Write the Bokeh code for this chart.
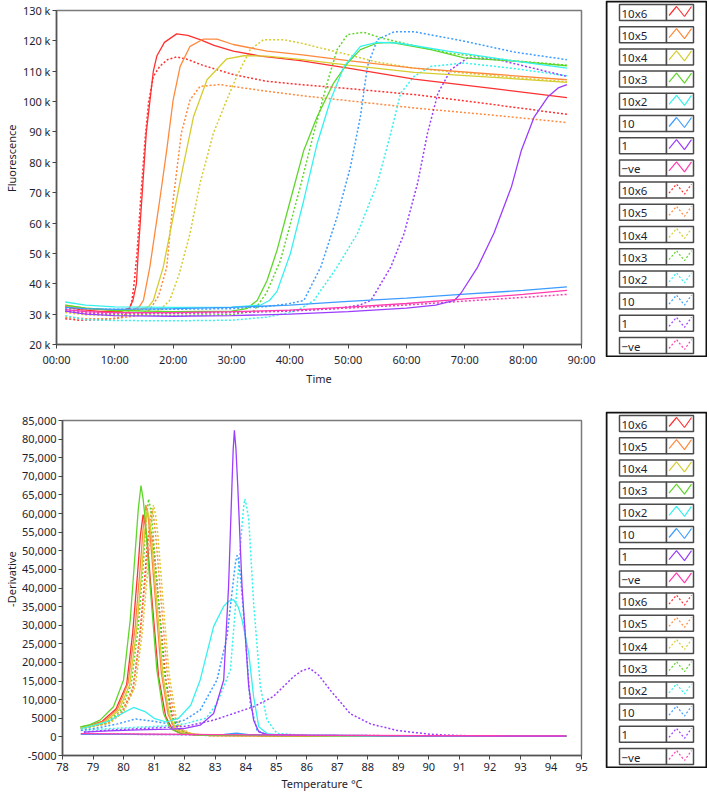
import math
from bokeh.plotting import figure
from bokeh.layouts import row, column
from bokeh.models import Range1d, FixedTicker, Spacer
from bokeh.embed import file_html
from bokeh.resources import INLINE

# ---------------- series identity ----------------
LABELS = ["10x6", "10x5", "10x4", "10x3", "10x2", "10", "1", "\u2212ve"]
COLORS = ["#ff3030", "#ff8a3d", "#d6cc2e", "#5fd62a", "#35f2ee", "#3d9cff", "#9b3dff", "#ff3db0"]

# ---------------- amplification (time in minutes, fluorescence in k) ----------------
AMP_T_S1 = [1.5, 4, 8, 11, 12.5, 13.1, 13.7, 14.0, 14.7, 15.4, 16.0, 16.6, 17.2, 18.5, 20.6, 22.5, 24.6, 27, 30.3, 35, 41.8, 50, 61.3, 75, 87.5]
AMP_F_S1 = [32.5, 31.5, 30.8, 30.8, 32, 34.5, 40, 50, 70, 90, 100, 110, 115, 119.5, 122.3, 121.8, 120.4, 118.5, 116.6, 115, 113.5, 111, 107.4, 104.3, 101.3]
AMP_T_S2 = [1.5, 5, 10, 13, 14.2, 14.9, 16.0, 17.7, 18.9, 20.0, 21.2, 22.9, 25.2, 27.5, 30.3, 36.1, 41.8, 50, 61.3, 75, 87.5]
AMP_F_S2 = [32.8, 31.8, 31.2, 31.2, 32.5, 34.5, 45.5, 67.6, 84.1, 100.6, 111.6, 118.2, 120.6, 120.6, 118.8, 116.6, 115.5, 113.5, 111, 109, 107.2]
AMP_T_S3 = [1.5, 5, 10, 14, 15.8, 16.6, 18.3, 20, 21.7, 23.5, 25.8, 29.2, 32.1, 36, 41.8, 50, 61.3, 75, 87.5]
AMP_F_S3 = [33, 32, 31.3, 31.3, 32.5, 34.5, 45.5, 62, 78.6, 95.1, 107.2, 114.1, 115.1, 115, 113.9, 112, 109.6, 108, 106.3]
AMP_T_S4 = [1.5, 5, 10, 20, 30, 32.6, 34.4, 36.1, 37.8, 40.1, 42.4, 44.7, 47.5, 49.9, 52.1, 55, 57.3, 64.2, 69.9, 78.5, 87.5]
AMP_F_S4 = [33, 32, 31.2, 30.8, 31, 31.8, 34.5, 41.1, 51, 67.6, 84, 95.1, 106.1, 112.7, 117.1, 119.3, 119.5, 117.1, 114.4, 113.3, 111.8]
AMP_T_S5 = [1.5, 5, 10, 20, 30, 35, 36.5, 37.8, 40.1, 42.4, 44.7, 47, 49.3, 52.1, 55, 58.5, 67.1, 78, 87.5]
AMP_F_S5 = [34, 33, 32.4, 32.2, 32.3, 33, 34.5, 37.5, 50, 67.6, 86.3, 100.6, 111.6, 118.2, 119.5, 119.3, 116.6, 113.5, 111]
AMP_T_S6 = [1.5, 5, 10, 20, 30, 40, 50, 60, 70, 80, 87.5]
AMP_F_S6 = [32.2, 31.8, 31.6, 31.8, 32.2, 33, 34.2, 35.3, 36.6, 37.8, 39]
AMP_T_S7 = [1.5, 5, 10, 20, 30, 40, 50, 60, 65, 68.2, 69.3, 72.2, 75, 78, 79.7, 81.9, 84.3, 86, 87.5]
AMP_F_S7 = [31, 30, 29.5, 29.3, 29.5, 30, 30.8, 32, 33, 34.5, 36.8, 45.5, 56.7, 72, 84, 95, 101.7, 104.5, 105.6]
AMP_T_S8 = [1.5, 5, 10, 20, 30, 40, 50, 60, 70, 80, 87.5]
AMP_F_S8 = [31.5, 30.8, 30.5, 30.5, 30.8, 31.3, 32.3, 33.5, 35, 36.5, 37.8]

AMP_T_D1 = [1.5, 4, 8, 11, 12.3, 12.9, 13.3, 13.8, 14.5, 15.2, 15.8, 16.6, 17.7, 19, 20.6, 22.3, 25, 30.3, 36, 41.8, 50, 61.3, 75, 87.5]
AMP_F_D1 = [28.5, 28, 28.2, 28.8, 30.5, 34, 40, 50, 70, 88, 100, 108.3, 111.6, 113.8, 114.7, 114.0, 112, 108.9, 106.7, 105.6, 104.3, 102.3, 99, 95.8]
AMP_T_D2 = [1.5, 5, 10, 14, 16, 17.5, 18.9, 20, 21.4, 22.9, 24.6, 28, 32, 36.1, 41.8, 50, 61.3, 75, 87.5]
AMP_F_D2 = [29, 28.5, 28.5, 29.5, 31.5, 36, 45.5, 67.6, 89.6, 100.6, 105, 105.6, 104.5, 103.4, 102, 100.3, 97.9, 95.5, 93.1]
AMP_T_D3 = [1.5, 5, 10, 15, 17.5, 19.4, 21, 22.9, 24.6, 26.9, 29.2, 30.9, 33.2, 35.5, 38.9, 41.8, 44.1, 49.9, 55, 61.3, 75, 87.5]
AMP_F_D3 = [30.5, 29.8, 29.5, 29.8, 31, 34.5, 43, 56.6, 73.1, 89.6, 100.6, 108.3, 117.1, 120.4, 120.4, 119.3, 118.2, 115.5, 113, 111, 108.5, 106.5]
AMP_T_D4 = [1.5, 5, 10, 20, 30, 33.8, 36, 38.4, 41.8, 44.1, 46.4, 48.1, 49.9, 52.7, 55.6, 60, 67.1, 78, 87.5]
AMP_F_D4 = [31, 30.2, 29.8, 29.6, 29.8, 31, 37, 47.7, 72, 89.6, 106.1, 117.1, 122.1, 122.8, 121, 119, 116, 113.5, 112]
AMP_T_D5 = [1.5, 5, 10, 20, 30, 36, 40, 42, 44.1, 48.1, 51.6, 55, 57.3, 59, 61.3, 64.2, 69.9, 78, 87.5]
AMP_F_D5 = [29.5, 28.2, 27.9, 27.8, 28, 29, 30.5, 32, 34.5, 45.5, 56.6, 73.1, 89.6, 102.8, 108.3, 111.6, 112.7, 111, 108.5]
AMP_T_D6 = [1.5, 5, 10, 20, 30, 36, 40, 42.4, 45.3, 48.1, 50.4, 52.1, 53.3, 55, 57.9, 61.3, 69.9, 78.5, 87.5]
AMP_F_D6 = [32, 31.7, 31.6, 31.6, 31.8, 32.5, 33.5, 34.5, 45.5, 62, 78.6, 95.1, 111.6, 120.4, 123, 123, 119.9, 116.3, 113.8]
AMP_T_D7 = [1.5, 5, 10, 20, 30, 40, 48, 52, 53.9, 57.3, 59.6, 61.9, 63.6, 65.4, 67.6, 70.5, 75.7, 87.5]
AMP_F_D7 = [31.5, 30.8, 30.5, 30.3, 30.5, 31, 31.8, 33, 34.5, 45.5, 56.6, 73.1, 89.6, 102.8, 110.5, 114.4, 113.8, 108.3]
AMP_T_D8 = [1.5, 5, 10, 20, 30, 40, 50, 60, 70, 80, 87.5]
AMP_F_D8 = [31, 30.3, 30.2, 30.3, 30.6, 31.2, 32, 33, 34.3, 35.5, 36.5]

# ---------------- melt derivative (temperature °C, -dF/dT) ----------------
MELT_T_S1 = [78.6, 78.9, 79.3, 79.75, 80.1, 80.3, 80.46, 80.55, 80.64, 80.71, 80.78, 80.94, 81.15, 81.38, 81.6, 81.9, 82.5, 84, 86, 88, 90, 92, 94.5]
MELT_D_S1 = [2600, 3100, 4200, 7500, 14000, 28000, 44000, 54000, 59700, 57000, 52000, 36000, 16000, 5500, 2000, 800, 400, 350, 300, 300, 250, 200, 150]
MELT_T_S2 = [78.6, 78.9, 79.35, 79.8, 80.15, 80.38, 80.55, 80.64, 80.73, 80.8, 80.87, 81.03, 81.24, 81.46, 81.68, 82.0, 82.6, 84, 86, 88, 90, 92, 94.5]
MELT_D_S2 = [2500, 3000, 4100, 7400, 14500, 29500, 46000, 56000, 62300, 59500, 54000, 38000, 17000, 6000, 2100, 850, 400, 350, 300, 250, 250, 200, 200]
MELT_T_S3 = [78.6, 78.9, 79.4, 79.85, 80.2, 80.43, 80.6, 80.69, 80.78, 80.85, 80.92, 81.08, 81.29, 81.5, 81.72, 82.05, 82.6, 84, 86, 88, 90, 92, 94.5]
MELT_D_S3 = [2400, 2900, 4000, 7200, 14000, 29000, 45000, 55000, 61000, 58300, 53000, 37000, 16500, 5800, 2000, 800, 400, 350, 300, 250, 250, 200, 200]
MELT_T_S4 = [78.58, 78.9, 79.23, 79.67, 80.0, 80.22, 80.38, 80.48, 80.57, 80.64, 80.71, 80.87, 81.09, 81.31, 81.53, 81.86, 82.5, 84, 86, 88, 90, 92, 94.5]
MELT_D_S4 = [2700, 3300, 4500, 8100, 15300, 31500, 49500, 61000, 67500, 64000, 58500, 40500, 18000, 6300, 2250, 900, 450, 400, 350, 300, 250, 250, 200]
MELT_T_S5 = [78.6, 79.0, 79.5, 80.0, 80.33, 80.7, 81.0, 81.4, 81.8, 82.2, 82.51, 82.95, 83.28, 83.45, 83.6, 83.75, 83.88, 84.1, 84.26, 84.43, 84.7, 85.2, 86, 88, 90, 92, 94.5]
MELT_D_S5 = [2200, 3000, 4200, 6500, 7900, 6800, 5000, 4000, 5000, 8500, 15300, 29700, 35100, 36500, 36900, 35000, 31500, 22500, 10800, 2700, 900, 500, 400, 300, 250, 200, 200]
MELT_T_S6 = [78.6, 80, 82, 83.3, 83.7, 84.1, 86, 88, 90, 92, 94.5]
MELT_D_S6 = [700, 650, 600, 650, 1000, 600, 500, 400, 350, 300, 250]
MELT_T_S7 = [78.7, 79.5, 80.5, 81.5, 81.97, 82.51, 82.95, 83.28, 83.44, 83.55, 83.59, 83.63, 83.68, 83.74, 83.88, 84.1, 84.26, 84.43, 84.7, 85.5, 87, 89, 91, 94.5]
MELT_D_S7 = [1300, 1600, 1900, 2100, 2250, 3150, 6300, 15300, 40500, 67500, 77000, 82350, 77500, 67500, 40500, 13500, 4500, 1350, 700, 500, 400, 300, 250, 200]
MELT_T_S8 = [78.6, 80, 82, 84, 86, 88, 90, 92, 94.5]
MELT_D_S8 = [900, 800, 650, 550, 450, 400, 350, 300, 250]

MELT_T_D1 = [78.6, 78.9, 79.5, 79.95, 80.3, 80.52, 80.68, 80.77, 80.86, 80.93, 81.0, 81.17, 81.38, 81.6, 81.82, 82.15, 82.75, 84, 86, 88, 90, 92, 94.5]
MELT_D_D1 = [2300, 2700, 3700, 6500, 12500, 26000, 41000, 51000, 56500, 54000, 49500, 34500, 15500, 5300, 1900, 800, 400, 350, 300, 250, 200, 200, 150]
MELT_T_D2 = [78.6, 78.9, 79.5, 79.95, 80.32, 80.56, 80.74, 80.83, 80.92, 80.99, 81.06, 81.22, 81.43, 81.65, 81.87, 82.2, 82.8, 84, 86, 88, 90, 92, 94.5]
MELT_D_D2 = [2200, 2700, 3800, 6800, 13500, 28500, 45000, 55500, 61500, 58800, 53500, 37500, 17000, 5800, 2000, 800, 400, 350, 300, 250, 200, 200, 150]
MELT_T_D3 = [78.6, 78.9, 79.55, 80.0, 80.38, 80.62, 80.8, 80.89, 80.98, 81.05, 81.12, 81.28, 81.49, 81.71, 81.93, 82.25, 82.85, 84, 86, 88, 90, 92, 94.5]
MELT_D_D3 = [2200, 2600, 3700, 6700, 13500, 28500, 45500, 56200, 62300, 59500, 54500, 38000, 17000, 5800, 2000, 800, 400, 350, 300, 250, 200, 200, 150]
MELT_T_D4 = [78.6, 78.9, 79.45, 79.9, 80.25, 80.48, 80.65, 80.73, 80.82, 80.89, 80.96, 81.12, 81.33, 81.55, 81.77, 82.1, 82.7, 84, 86, 88, 90, 92, 94.5]
MELT_D_D4 = [2300, 2800, 3900, 7000, 14000, 29500, 46500, 57500, 63900, 61000, 55500, 39000, 17500, 6000, 2100, 800, 400, 350, 300, 250, 200, 200, 150]
MELT_T_D5 = [78.6, 79.5, 80.5, 81.5, 82.0, 82.7, 83.06, 83.5, 83.72, 83.88, 83.93, 83.97, 84.03, 84.1, 84.26, 84.48, 84.7, 85.03, 86, 88, 90, 92, 94.5]
MELT_D_D5 = [1800, 2200, 2600, 3000, 3500, 5000, 9000, 18000, 40500, 56700, 61500, 63900, 62000, 58500, 36000, 13500, 4500, 900, 400, 300, 250, 200, 200]
MELT_T_D6 = [78.6, 79.2, 79.8, 80.4, 80.9, 81.5, 82.0, 82.51, 83.06, 83.39, 83.6, 83.67, 83.72, 83.77, 83.83, 83.99, 84.15, 84.37, 84.7, 85.5, 87, 89, 91, 94.5]
MELT_D_D6 = [1700, 2500, 3500, 4800, 4300, 3500, 4500, 7200, 15300, 27000, 42300, 47000, 48800, 47500, 43200, 27000, 9000, 1800, 450, 350, 300, 250, 200, 150]
MELT_T_D7 = [78.7, 79.5, 80.5, 81.5, 82.08, 82.95, 84.26, 84.9, 85.57, 85.85, 86.1, 86.4, 86.78, 87.43, 88.09, 88.96, 90.05, 91, 92.5, 94.5]
MELT_D_D7 = [1300, 1800, 2200, 2600, 2900, 4500, 8100, 10800, 16200, 17800, 18450, 16500, 12460, 6200, 3490, 1720, 700, 350, 250, 200]
MELT_T_D8 = [78.6, 80, 82, 84, 86, 88, 90, 92, 94.5]
MELT_D_D8 = [800, 700, 600, 500, 400, 350, 300, 250, 200]

AMP_SOLID = [(AMP_T_S1, AMP_F_S1), (AMP_T_S2, AMP_F_S2), (AMP_T_S3, AMP_F_S3), (AMP_T_S4, AMP_F_S4),
             (AMP_T_S5, AMP_F_S5), (AMP_T_S6, AMP_F_S6), (AMP_T_S7, AMP_F_S7), (AMP_T_S8, AMP_F_S8)]
AMP_DOT = [(AMP_T_D1, AMP_F_D1), (AMP_T_D2, AMP_F_D2), (AMP_T_D3, AMP_F_D3), (AMP_T_D4, AMP_F_D4),
           (AMP_T_D5, AMP_F_D5), (AMP_T_D6, AMP_F_D6), (AMP_T_D7, AMP_F_D7), (AMP_T_D8, AMP_F_D8)]
MELT_SOLID = [(MELT_T_S1, MELT_D_S1), (MELT_T_S2, MELT_D_S2), (MELT_T_S3, MELT_D_S3), (MELT_T_S4, MELT_D_S4),
              (MELT_T_S5, MELT_D_S5), (MELT_T_S6, MELT_D_S6), (MELT_T_S7, MELT_D_S7), (MELT_T_S8, MELT_D_S8)]
MELT_DOT = [(MELT_T_D1, MELT_D_D1), (MELT_T_D2, MELT_D_D2), (MELT_T_D3, MELT_D_D3), (MELT_T_D4, MELT_D_D4),
            (MELT_T_D5, MELT_D_D5), (MELT_T_D6, MELT_D_D6), (MELT_T_D7, MELT_D_D7), (MELT_T_D8, MELT_D_D8)]

TIME_TICKS = [0, 10, 20, 30, 40, 50, 60, 70, 80, 90]
FLUOR_TICKS = [20, 30, 40, 50, 60, 70, 80, 90, 100, 110, 120, 130]
TEMP_TICKS = list(range(78, 96))
DERIV_TICKS = list(range(-5000, 85001, 5000))

FONT = "Noto Sans"
TXT = "#1e1e30"
DOT_DASH = "2 2"
YLAB_W = 19


def style_axes(p, x_std, x_lab_std):
    p.xgrid.visible = False
    p.ygrid.visible = False
    p.outline_line_color = "#7a7a7a"
    p.outline_line_width = 1.5
    for ax in (p.xaxis[0], p.yaxis[0]):
        ax.axis_line_color = "#555555"
        ax.axis_line_width = 1.5
        ax.major_tick_line_color = "#444444"
        ax.major_tick_in = 0
        ax.major_tick_out = 4
        ax.minor_tick_line_color = None
        ax.major_label_text_font = FONT
        ax.major_label_text_font_size = "11px"
        ax.major_label_text_color = TXT
        ax.axis_label_text_font = FONT
        ax.axis_label_text_font_size = "11px"
        ax.axis_label_text_font_style = "normal"
        ax.axis_label_text_color = TXT
    p.yaxis[0].major_label_standoff = 2
    p.xaxis[0].major_label_standoff = x_std
    p.xaxis[0].axis_label_standoff = x_lab_std
    p.background_fill_color = "white"
    p.border_fill_color = "white"


def ylabel_panel(text, height, frame_top, frame_bottom):
    """Narrow strip left of a plot carrying its rotated y-axis title."""
    lp = figure(width=YLAB_W, height=height, x_range=Range1d(0, YLAB_W), y_range=Range1d(height, 0),
                output_backend="svg", toolbar_location=None,
                min_border_left=0, min_border_right=0, min_border_top=0, min_border_bottom=0)
    lp.axis.visible = False
    lp.xgrid.visible = False
    lp.ygrid.visible = False
    lp.outline_line_color = None
    lp.text(x=[11], y=[(frame_top + frame_bottom) / 2], text=[text], angle=math.pi / 2,
            text_align="center", text_baseline="middle", text_font_size="11px",
            text_color=TXT, text_font={"value": FONT})
    return lp


# ---------------- top: amplification ----------------
TOP_H = 400
p1 = figure(width=605 - YLAB_W, height=TOP_H, x_range=Range1d(0, 90), y_range=Range1d(20, 130),
            output_backend="svg", toolbar_location=None,
            min_border_left=56 - YLAB_W, min_border_right=24, min_border_top=10, min_border_bottom=56)
style_axes(p1, 3, 1)
p1.xaxis.axis_label = "Time"
p1.xaxis.ticker = FixedTicker(ticks=TIME_TICKS)
p1.xaxis.major_label_overrides = {t: "%02d:00" % t for t in TIME_TICKS}
p1.yaxis.ticker = FixedTicker(ticks=FLUOR_TICKS)
p1.yaxis.major_label_overrides = {v: "%d k" % v for v in FLUOR_TICKS}

for (t, f), c in zip(AMP_DOT, COLORS):
    p1.line(t, f, line_color=c, line_width=1.5, line_dash=DOT_DASH)
for (t, f), c in zip(AMP_SOLID, COLORS):
    p1.line(t, f, line_color=c, line_width=1.3)

# ---------------- bottom: melt derivative ----------------
BOT_H = 396
p2 = figure(width=605 - YLAB_W, height=BOT_H, x_range=Range1d(78, 95), y_range=Range1d(-5000, 85000),
            output_backend="svg", toolbar_location=None,
            min_border_left=62 - YLAB_W, min_border_right=24, min_border_top=20, min_border_bottom=41)
style_axes(p2, 3, 2)
p2.xaxis.axis_label = "Temperature \u00b0C"
p2.xaxis.ticker = FixedTicker(ticks=TEMP_TICKS)
p2.yaxis.ticker = FixedTicker(ticks=DERIV_TICKS)
p2.yaxis.major_label_overrides = {v: ("{:,}".format(v) if v >= 10000 else str(v)) for v in DERIV_TICKS}

for (t, d), c in zip(MELT_DOT, COLORS):
    p2.line(t, d, line_color=c, line_width=1.5, line_dash=DOT_DASH)
for (t, d), c in zip(MELT_SOLID, COLORS):
    p2.line(t, d, line_color=c, line_width=1.3)

ylab1 = ylabel_panel("Fluorescence", TOP_H, 10, 344)
ylab2 = ylabel_panel("-Derivative", BOT_H, 20, 355)


# ---------------- legends (LabVIEW-style plot legend) ----------------
LEG_W = 102
LEG_H = 357
ROW_PITCH = 22.2
ROW_TOP0 = 4
ROW_H = 16
NAME_L, NAME_R, SW_R = 14, 61, 88
ZIG_DX = [2.5, 10, 18, 25]
ZIG_DY = [11, 2, 12, 2]


def make_legend():
    lg = figure(width=LEG_W, height=LEG_H, x_range=Range1d(0, LEG_W), y_range=Range1d(LEG_H, 0),
                output_backend="svg", toolbar_location=None,
                min_border_left=0, min_border_right=0, min_border_top=0, min_border_bottom=0)
    lg.axis.visible = False
    lg.xgrid.visible = False
    lg.ygrid.visible = False
    lg.outline_line_color = None
    lg.quad(left=[1], right=[LEG_W - 1], top=[1], bottom=[LEG_H - 1],
            fill_color="white", line_color="#111111", line_width=2)
    entries = [(lab, c, None) for lab, c in zip(LABELS, COLORS)] + \
              [(lab, c, DOT_DASH) for lab, c in zip(LABELS, COLORS)]
    tops = [ROW_TOP0 + ROW_PITCH * i for i in range(len(entries))]
    lg.quad(left=[NAME_L] * len(tops), right=[NAME_R] * len(tops), top=tops,
            bottom=[y + ROW_H for y in tops], fill_color="white", line_color="#4a4a4a", line_width=1.5)
    lg.quad(left=[NAME_R] * len(tops), right=[SW_R] * len(tops), top=tops,
            bottom=[y + ROW_H for y in tops], fill_color="white", line_color="#4a4a4a", line_width=1.5)
    lg.text(x=[NAME_L + 2] * len(tops), y=[y + ROW_H / 2 + 0.5 for y in tops],
            text=[e[0] for e in entries], text_font_size="11.5px", text_color=TXT,
            text_baseline="middle", text_align="left", text_font={"value": FONT})
    for (lab, c, dash), y in zip(entries, tops):
        xs = [NAME_R + dx for dx in ZIG_DX]
        ys = [y + dy for dy in ZIG_DY]
        if dash:
            lg.line(xs, ys, line_color=c, line_width=1.2, line_dash="2 2")
        else:
            lg.line(xs, ys, line_color=c, line_width=1.2)
    return lg


leg1 = make_legend()
leg2 = make_legend()

layout = row(column(row(ylab1, p1), row(ylab2, p2)),
             column(leg1, Spacer(width=LEG_W, height=54), leg2))

open("out.html", "w").write(file_html(layout, INLINE))
